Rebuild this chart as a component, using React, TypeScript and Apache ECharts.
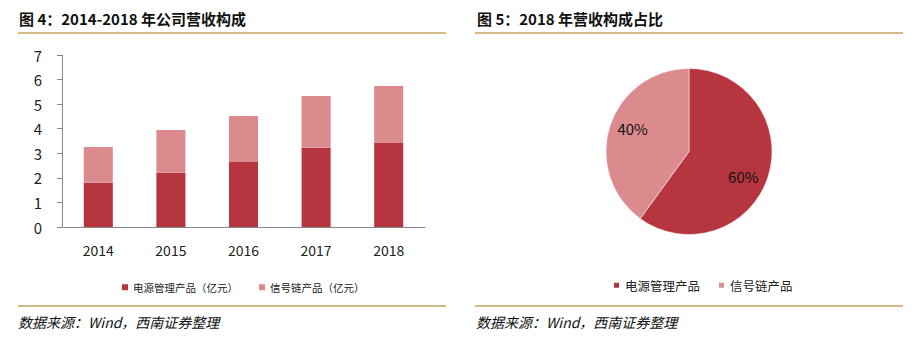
import React, { useEffect, useRef } from "react";
import * as echarts from "echarts";

const years = ["2014", "2015", "2016", "2017", "2018"];
const powerMgmt = [1.8, 2.21, 2.65, 3.23, 3.42];
const signalChain = [1.46, 1.74, 1.87, 2.1, 2.32];
const barNames = ["电源管理产品（亿元）", "信号链产品（亿元）"];
const pieNames = ["电源管理产品", "信号链产品"];
const pieValues = [60, 40];
const yTicks = { min: 0, max: 7, interval: 1 };

const titleLeft = "图 4：2014-2018 年公司营收构成";
const titleRight = "图 5：2018 年营收构成占比";
const source = "数据来源：Wind，西南证券整理";

const DARK = "#B7353E";
const LIGHT = "#DB8B8E";
const GOLD = "#C9A35E";
const FONT = "'Noto Sans CJK SC', 'Noto Sans', sans-serif";

export default function App() {
  const ref = useRef<HTMLDivElement>(null);
  useEffect(() => {
    document.body.style.margin = "0";
    const chart = echarts.init(ref.current!, null, { renderer: "svg" });
    const lineEl = (x1: number, x2: number, y: number) => ({
      type: "line",
      shape: { x1, y1: y, x2, y2: y },
      style: { stroke: GOLD, lineWidth: 1.5 },
    });
    const textEl = (x: number, y: number, text: string, extra: any) => ({
      type: "text",
      x,
      y,
      style: { text, fill: "#111", fontFamily: FONT, verticalAlign: "middle", ...extra },
    });
    chart.setOption({
      animation: false,
      textStyle: { fontFamily: FONT },
      graphic: [
        textEl(19, 18, titleLeft, { fontSize: 15, fontWeight: "bold" }),
        textEl(477, 18, titleRight, { fontSize: 15, fontWeight: "bold" }),
        lineEl(18, 446, 33),
        lineEl(475, 903, 33),
        lineEl(18, 446, 306),
        lineEl(475, 903, 306),
        textEl(18, 322, source, { fontSize: 14, fontStyle: "italic" }),
        textEl(476, 322, source, { fontSize: 14, fontStyle: "italic" }),
      ],
      legend: [
        {
          data: barNames,
          left: 117,
          top: 277,
          itemWidth: 6,
          itemHeight: 6,
          itemGap: 21,
          icon: "rect",
          textStyle: { fontSize: 10.5, color: "#222", fontFamily: FONT },
        },
        {
          data: pieNames,
          left: 607,
          top: 274,
          itemWidth: 7,
          itemHeight: 7,
          itemGap: 17,
          icon: "rect",
          textStyle: { fontSize: 12.5, color: "#222", fontFamily: FONT },
        },
      ],
      grid: { left: 62, top: 55, width: 363, height: 172 },
      xAxis: {
        type: "category",
        data: years,
        axisLine: { lineStyle: { color: "#888" } },
        axisTick: { length: 5, lineStyle: { color: "#888" } },
        axisLabel: { fontSize: 14, color: "#222", margin: 16 },
      },
      yAxis: {
        type: "value",
        ...yTicks,
        axisLine: { show: true, lineStyle: { color: "#888" } },
        axisTick: { show: true, length: 5, lineStyle: { color: "#888" } },
        splitLine: { show: false },
        axisLabel: { fontSize: 15, color: "#222", margin: 20 },
      },
      series: [
        {
          type: "bar",
          name: barNames[0],
          stack: "t",
          data: powerMgmt,
          barWidth: "40%",
          itemStyle: { color: DARK },
        },
        {
          type: "bar",
          name: barNames[1],
          stack: "t",
          data: signalChain,
          barWidth: "40%",
          itemStyle: { color: LIGHT },
        },
        {
          type: "pie",
          center: [689, 151.5],
          radius: 83,
          startAngle: 90,
          clockwise: true,
          label: {
            show: true,
            position: "inside",
            formatter: "{c}%",
            fontSize: 15,
            color: "#111",
          },
          labelLine: { show: false },
          itemStyle: { borderColor: "#fff", borderWidth: 0.5 },
          emphasis: { disabled: true },
          data: [
            { name: pieNames[0], value: pieValues[0], itemStyle: { color: DARK }, label: { offset: [12, 11] } },
            { name: pieNames[1], value: pieValues[1], itemStyle: { color: LIGHT }, label: { offset: [-14, -9] } },
          ],
        },
      ],
    });
    return () => chart.dispose();
  }, []);
  return <div ref={ref} style={{ width: 919, height: 342 }} />;
}
